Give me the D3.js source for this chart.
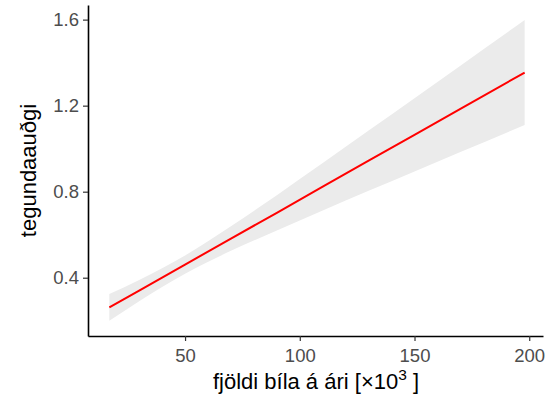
<!DOCTYPE html>
<html>
<head>
<meta charset="utf-8">
<script src="https://cdn.jsdelivr.net/npm/d3@7"></script>
<style>
  html, body { margin: 0; padding: 0; background: #ffffff; }
  svg { display: block; font-family: "Liberation Sans", Arial, sans-serif; }
</style>
</head>
<body>
<svg id="chart" width="553" height="411"></svg>
<script>
// ---- data ----
const xValues   = [17, 30, 50, 70, 90, 110, 130, 150, 170, 198];
const fitValues = [0.262, 0.340, 0.461, 0.582, 0.702, 0.823, 0.944, 1.064, 1.185, 1.354];
const lowerValues = [0.200, 0.291, 0.419, 0.525, 0.620, 0.713, 0.804, 0.894, 0.984, 1.110];
const upperValues = [0.324, 0.389, 0.503, 0.639, 0.784, 0.933, 1.084, 1.234, 1.386, 1.598];
const xTicks = [50, 100, 150, 200];
const yTicks = [0.4, 0.8, 1.2, 1.6];
const xTitle = "fjöldi bíla á ári [×10";
const yTitle = "tegundaauðgi";

const rows = xValues.map((x, i) => ({ x, fit: fitValues[i], lo: lowerValues[i], hi: upperValues[i] }));

const svg = d3.select("#chart");
const x = d3.scaleLinear().domain([7.7, 206]).range([88, 543]);
const y = d3.scaleLinear().domain([0.129, 1.668]).range([336, 5]);

// ribbon
svg.append("path")
  .datum(rows)
  .attr("fill", "#ebebeb")
  .attr("d", d3.area().x(d => x(d.x)).y0(d => y(d.lo)).y1(d => y(d.hi)).curve(d3.curveMonotoneX));

// fit line
svg.append("path")
  .datum(rows)
  .attr("fill", "none")
  .attr("stroke", "#ff0000")
  .attr("stroke-width", 2)
  .attr("d", d3.line().x(d => x(d.x)).y(d => y(d.fit)));

// axes
const yAxis = svg.append("g")
  .attr("transform", "translate(88,0)")
  .call(d3.axisLeft(y).tickValues(yTicks).tickFormat(d3.format(".1f")).tickSize(5).tickSizeOuter(0).tickPadding(4));
const xAxis = svg.append("g")
  .attr("transform", "translate(0,336)")
  .call(d3.axisBottom(x).tickValues(xTicks).tickFormat(d3.format("d")).tickSize(5).tickSizeOuter(0).tickPadding(4));

[xAxis, yAxis].forEach(g => {
  g.select(".domain").attr("stroke", "#000").attr("stroke-width", 1.6);
  g.selectAll(".tick line").attr("stroke", "#333").attr("stroke-width", 1.2);
  g.selectAll(".tick text").attr("fill", "#4d4d4d").style("font-size", "18.5px")
    .style("font-family", "'Liberation Sans', Arial, sans-serif");
});
xAxis.selectAll(".tick text").attr("dy", "0.9em");

// axis titles
const xt = svg.append("text")
  .attr("x", 316).attr("y", 389)
  .attr("text-anchor", "middle")
  .attr("fill", "#000")
  .style("font-size", "22px");
xt.append("tspan").text(xTitle);
xt.append("tspan").attr("dy", -9).style("font-size", "15.5px").text("3");
xt.append("tspan").attr("dy", 9).text(" ]");

svg.append("text")
  .attr("transform", "translate(36,170.5) rotate(-90)")
  .attr("text-anchor", "middle")
  .attr("fill", "#000")
  .style("font-size", "22px")
  .text(yTitle);
</script>
</body>
</html>
